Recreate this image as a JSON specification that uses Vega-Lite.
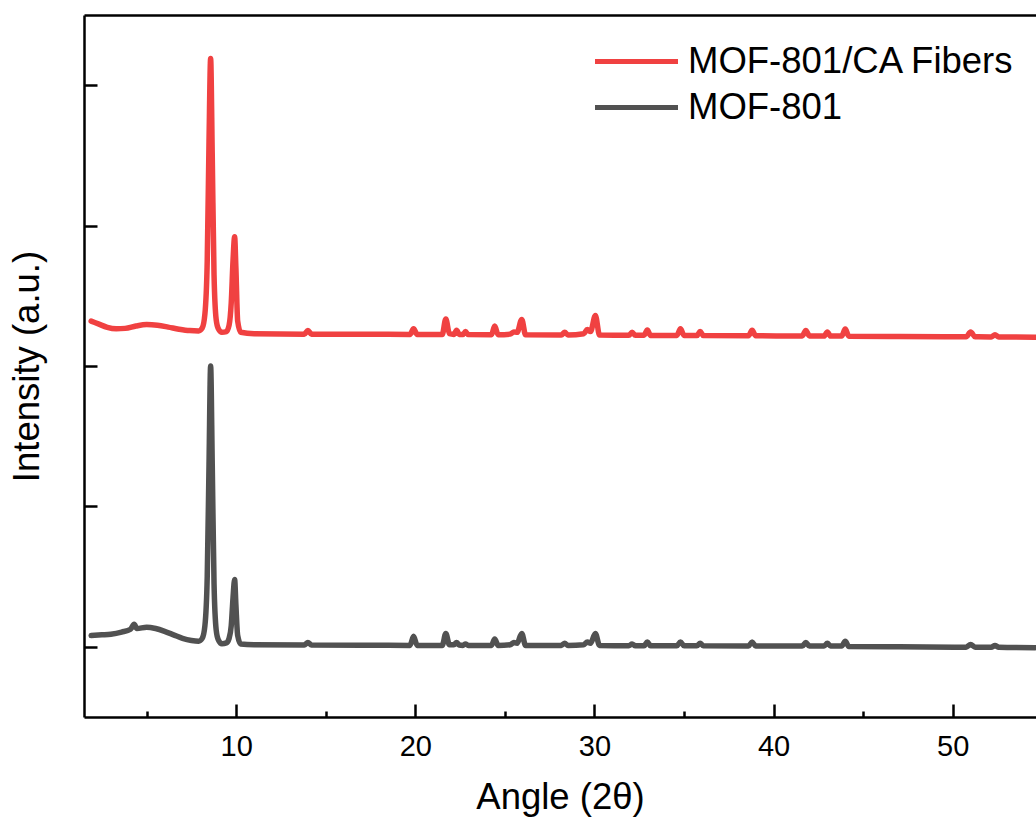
{
  "$schema": "https://vega.github.io/schema/vega-lite/v6.json",
  "width": 952,
  "height": 702,
  "autosize": {"type": "none"},
  "padding": {"left": 84, "top": 15, "right": 0, "bottom": 111},
  "background": "white",
  "config": {
    "view": {"stroke": null},
    "font": "Liberation Sans",
    "axis": {"grid": false, "domainColor": "black", "domainWidth": 2.5, "tickColor": "black", "tickWidth": 2.5, "labelColor": "black", "titleColor": "black", "labelFont": "Liberation Sans", "titleFont": "Liberation Sans", "titleFontWeight": "normal"}
  },
  "data": {"values": [
    {"sample": "MOF-801", "angle": 1.9, "intensity": 0.08},
    {"sample": "MOF-801", "angle": 2.5, "intensity": 0.085},
    {"sample": "MOF-801", "angle": 3.0, "intensity": 0.09},
    {"sample": "MOF-801", "angle": 3.6, "intensity": 0.105},
    {"sample": "MOF-801", "angle": 4.1, "intensity": 0.125},
    {"sample": "MOF-801", "angle": 4.3, "intensity": 0.16},
    {"sample": "MOF-801", "angle": 4.45, "intensity": 0.13},
    {"sample": "MOF-801", "angle": 5.0, "intensity": 0.14},
    {"sample": "MOF-801", "angle": 5.5, "intensity": 0.13},
    {"sample": "MOF-801", "angle": 6.0, "intensity": 0.11},
    {"sample": "MOF-801", "angle": 6.5, "intensity": 0.085},
    {"sample": "MOF-801", "angle": 7.0, "intensity": 0.06},
    {"sample": "MOF-801", "angle": 7.5, "intensity": 0.045},
    {"sample": "MOF-801", "angle": 7.9, "intensity": 0.04},
    {"sample": "MOF-801", "angle": 8.1, "intensity": 0.06},
    {"sample": "MOF-801", "angle": 8.25, "intensity": 0.15},
    {"sample": "MOF-801", "angle": 8.38, "intensity": 0.5},
    {"sample": "MOF-801", "angle": 8.48, "intensity": 1.3},
    {"sample": "MOF-801", "angle": 8.57, "intensity": 2.0},
    {"sample": "MOF-801", "angle": 8.66, "intensity": 1.3},
    {"sample": "MOF-801", "angle": 8.76, "intensity": 0.45},
    {"sample": "MOF-801", "angle": 8.88, "intensity": 0.12},
    {"sample": "MOF-801", "angle": 9.0, "intensity": 0.05},
    {"sample": "MOF-801", "angle": 9.2, "intensity": 0.022},
    {"sample": "MOF-801", "angle": 9.45, "intensity": 0.028},
    {"sample": "MOF-801", "angle": 9.6, "intensity": 0.06},
    {"sample": "MOF-801", "angle": 9.72, "intensity": 0.15},
    {"sample": "MOF-801", "angle": 9.82, "intensity": 0.35},
    {"sample": "MOF-801", "angle": 9.91, "intensity": 0.48},
    {"sample": "MOF-801", "angle": 9.98, "intensity": 0.3},
    {"sample": "MOF-801", "angle": 10.08, "intensity": 0.08},
    {"sample": "MOF-801", "angle": 10.25, "intensity": 0.02},
    {"sample": "MOF-801", "angle": 11, "intensity": 0.015},
    {"sample": "MOF-801", "angle": 13.8, "intensity": 0.013},
    {"sample": "MOF-801", "angle": 14.0, "intensity": 0.03},
    {"sample": "MOF-801", "angle": 14.2, "intensity": 0.013},
    {"sample": "MOF-801", "angle": 17, "intensity": 0.011},
    {"sample": "MOF-801", "angle": 19.7, "intensity": 0.01},
    {"sample": "MOF-801", "angle": 19.9, "intensity": 0.075},
    {"sample": "MOF-801", "angle": 20.1, "intensity": 0.01},
    {"sample": "MOF-801", "angle": 21.5, "intensity": 0.01},
    {"sample": "MOF-801", "angle": 21.7, "intensity": 0.095},
    {"sample": "MOF-801", "angle": 21.9, "intensity": 0.015},
    {"sample": "MOF-801", "angle": 22.15, "intensity": 0.015},
    {"sample": "MOF-801", "angle": 22.3, "intensity": 0.03},
    {"sample": "MOF-801", "angle": 22.45, "intensity": 0.013},
    {"sample": "MOF-801", "angle": 22.65, "intensity": 0.01},
    {"sample": "MOF-801", "angle": 22.8, "intensity": 0.02},
    {"sample": "MOF-801", "angle": 22.95, "intensity": 0.01},
    {"sample": "MOF-801", "angle": 24.25, "intensity": 0.01},
    {"sample": "MOF-801", "angle": 24.43, "intensity": 0.055},
    {"sample": "MOF-801", "angle": 24.62, "intensity": 0.01},
    {"sample": "MOF-801", "angle": 25.3, "intensity": 0.015},
    {"sample": "MOF-801", "angle": 25.5, "intensity": 0.03},
    {"sample": "MOF-801", "angle": 25.68, "intensity": 0.025},
    {"sample": "MOF-801", "angle": 25.94, "intensity": 0.095},
    {"sample": "MOF-801", "angle": 26.15, "intensity": 0.01},
    {"sample": "MOF-801", "angle": 28.15, "intensity": 0.01},
    {"sample": "MOF-801", "angle": 28.34, "intensity": 0.025},
    {"sample": "MOF-801", "angle": 28.52, "intensity": 0.01},
    {"sample": "MOF-801", "angle": 29.4, "intensity": 0.015},
    {"sample": "MOF-801", "angle": 29.6, "intensity": 0.035},
    {"sample": "MOF-801", "angle": 29.78, "intensity": 0.025},
    {"sample": "MOF-801", "angle": 30.05, "intensity": 0.095},
    {"sample": "MOF-801", "angle": 30.28, "intensity": 0.01},
    {"sample": "MOF-801", "angle": 31.92, "intensity": 0.008},
    {"sample": "MOF-801", "angle": 32.1, "intensity": 0.02},
    {"sample": "MOF-801", "angle": 32.28, "intensity": 0.007},
    {"sample": "MOF-801", "angle": 32.77, "intensity": 0.007},
    {"sample": "MOF-801", "angle": 32.95, "intensity": 0.035},
    {"sample": "MOF-801", "angle": 33.13, "intensity": 0.007},
    {"sample": "MOF-801", "angle": 34.6, "intensity": 0.007},
    {"sample": "MOF-801", "angle": 34.8, "intensity": 0.035},
    {"sample": "MOF-801", "angle": 35.0, "intensity": 0.007},
    {"sample": "MOF-801", "angle": 35.72, "intensity": 0.007},
    {"sample": "MOF-801", "angle": 35.9, "intensity": 0.025},
    {"sample": "MOF-801", "angle": 36.08, "intensity": 0.007},
    {"sample": "MOF-801", "angle": 38.6, "intensity": 0.005},
    {"sample": "MOF-801", "angle": 38.8, "intensity": 0.035},
    {"sample": "MOF-801", "angle": 39.0, "intensity": 0.005},
    {"sample": "MOF-801", "angle": 41.6, "intensity": 0.005},
    {"sample": "MOF-801", "angle": 41.8, "intensity": 0.03},
    {"sample": "MOF-801", "angle": 42.0, "intensity": 0.005},
    {"sample": "MOF-801", "angle": 42.82, "intensity": 0.005},
    {"sample": "MOF-801", "angle": 43.0, "intensity": 0.025},
    {"sample": "MOF-801", "angle": 43.18, "intensity": 0.005},
    {"sample": "MOF-801", "angle": 43.8, "intensity": 0.005},
    {"sample": "MOF-801", "angle": 44.0, "intensity": 0.04},
    {"sample": "MOF-801", "angle": 44.2, "intensity": 0.003},
    {"sample": "MOF-801", "angle": 47, "intensity": 0.0},
    {"sample": "MOF-801", "angle": 50.75, "intensity": -0.003},
    {"sample": "MOF-801", "angle": 51.0, "intensity": 0.017},
    {"sample": "MOF-801", "angle": 51.25, "intensity": -0.003},
    {"sample": "MOF-801", "angle": 52.15, "intensity": -0.003},
    {"sample": "MOF-801", "angle": 52.36, "intensity": 0.009},
    {"sample": "MOF-801", "angle": 52.57, "intensity": -0.003},
    {"sample": "MOF-801", "angle": 54.6, "intensity": -0.006},
    {"sample": "MOF-801/CA Fibers", "angle": 1.9, "intensity": 2.32},
    {"sample": "MOF-801/CA Fibers", "angle": 2.3, "intensity": 2.3},
    {"sample": "MOF-801/CA Fibers", "angle": 2.8, "intensity": 2.275},
    {"sample": "MOF-801/CA Fibers", "angle": 3.3, "intensity": 2.265},
    {"sample": "MOF-801/CA Fibers", "angle": 3.8, "intensity": 2.268},
    {"sample": "MOF-801/CA Fibers", "angle": 4.4, "intensity": 2.285},
    {"sample": "MOF-801/CA Fibers", "angle": 5.0, "intensity": 2.295},
    {"sample": "MOF-801/CA Fibers", "angle": 5.6, "intensity": 2.29},
    {"sample": "MOF-801/CA Fibers", "angle": 6.2, "intensity": 2.277},
    {"sample": "MOF-801/CA Fibers", "angle": 6.8, "intensity": 2.262},
    {"sample": "MOF-801/CA Fibers", "angle": 7.4, "intensity": 2.252},
    {"sample": "MOF-801/CA Fibers", "angle": 7.9, "intensity": 2.25},
    {"sample": "MOF-801/CA Fibers", "angle": 8.1, "intensity": 2.27},
    {"sample": "MOF-801/CA Fibers", "angle": 8.25, "intensity": 2.37},
    {"sample": "MOF-801/CA Fibers", "angle": 8.38, "intensity": 2.75},
    {"sample": "MOF-801/CA Fibers", "angle": 8.48, "intensity": 3.6},
    {"sample": "MOF-801/CA Fibers", "angle": 8.57, "intensity": 4.19},
    {"sample": "MOF-801/CA Fibers", "angle": 8.66, "intensity": 3.5},
    {"sample": "MOF-801/CA Fibers", "angle": 8.76, "intensity": 2.65},
    {"sample": "MOF-801/CA Fibers", "angle": 8.88, "intensity": 2.33},
    {"sample": "MOF-801/CA Fibers", "angle": 9.0, "intensity": 2.265},
    {"sample": "MOF-801/CA Fibers", "angle": 9.2, "intensity": 2.24},
    {"sample": "MOF-801/CA Fibers", "angle": 9.45, "intensity": 2.245},
    {"sample": "MOF-801/CA Fibers", "angle": 9.6, "intensity": 2.29},
    {"sample": "MOF-801/CA Fibers", "angle": 9.72, "intensity": 2.45},
    {"sample": "MOF-801/CA Fibers", "angle": 9.82, "intensity": 2.75},
    {"sample": "MOF-801/CA Fibers", "angle": 9.91, "intensity": 2.92},
    {"sample": "MOF-801/CA Fibers", "angle": 9.98, "intensity": 2.7},
    {"sample": "MOF-801/CA Fibers", "angle": 10.08, "intensity": 2.32},
    {"sample": "MOF-801/CA Fibers", "angle": 10.25, "intensity": 2.24},
    {"sample": "MOF-801/CA Fibers", "angle": 11, "intensity": 2.23},
    {"sample": "MOF-801/CA Fibers", "angle": 13.8, "intensity": 2.227},
    {"sample": "MOF-801/CA Fibers", "angle": 14.0, "intensity": 2.252},
    {"sample": "MOF-801/CA Fibers", "angle": 14.2, "intensity": 2.227},
    {"sample": "MOF-801/CA Fibers", "angle": 17, "intensity": 2.226},
    {"sample": "MOF-801/CA Fibers", "angle": 19.7, "intensity": 2.225},
    {"sample": "MOF-801/CA Fibers", "angle": 19.9, "intensity": 2.265},
    {"sample": "MOF-801/CA Fibers", "angle": 20.1, "intensity": 2.225},
    {"sample": "MOF-801/CA Fibers", "angle": 21.5, "intensity": 2.224},
    {"sample": "MOF-801/CA Fibers", "angle": 21.7, "intensity": 2.335},
    {"sample": "MOF-801/CA Fibers", "angle": 21.9, "intensity": 2.23},
    {"sample": "MOF-801/CA Fibers", "angle": 22.15, "intensity": 2.225},
    {"sample": "MOF-801/CA Fibers", "angle": 22.3, "intensity": 2.255},
    {"sample": "MOF-801/CA Fibers", "angle": 22.45, "intensity": 2.225},
    {"sample": "MOF-801/CA Fibers", "angle": 22.65, "intensity": 2.224},
    {"sample": "MOF-801/CA Fibers", "angle": 22.8, "intensity": 2.245},
    {"sample": "MOF-801/CA Fibers", "angle": 22.95, "intensity": 2.224},
    {"sample": "MOF-801/CA Fibers", "angle": 24.25, "intensity": 2.223},
    {"sample": "MOF-801/CA Fibers", "angle": 24.43, "intensity": 2.285},
    {"sample": "MOF-801/CA Fibers", "angle": 24.62, "intensity": 2.223},
    {"sample": "MOF-801/CA Fibers", "angle": 25.3, "intensity": 2.227},
    {"sample": "MOF-801/CA Fibers", "angle": 25.5, "intensity": 2.243},
    {"sample": "MOF-801/CA Fibers", "angle": 25.68, "intensity": 2.24},
    {"sample": "MOF-801/CA Fibers", "angle": 25.94, "intensity": 2.332},
    {"sample": "MOF-801/CA Fibers", "angle": 26.15, "intensity": 2.223},
    {"sample": "MOF-801/CA Fibers", "angle": 28.15, "intensity": 2.221},
    {"sample": "MOF-801/CA Fibers", "angle": 28.34, "intensity": 2.24},
    {"sample": "MOF-801/CA Fibers", "angle": 28.52, "intensity": 2.221},
    {"sample": "MOF-801/CA Fibers", "angle": 29.4, "intensity": 2.23},
    {"sample": "MOF-801/CA Fibers", "angle": 29.6, "intensity": 2.26},
    {"sample": "MOF-801/CA Fibers", "angle": 29.78, "intensity": 2.245},
    {"sample": "MOF-801/CA Fibers", "angle": 30.05, "intensity": 2.36},
    {"sample": "MOF-801/CA Fibers", "angle": 30.28, "intensity": 2.221},
    {"sample": "MOF-801/CA Fibers", "angle": 31.92, "intensity": 2.219},
    {"sample": "MOF-801/CA Fibers", "angle": 32.1, "intensity": 2.24},
    {"sample": "MOF-801/CA Fibers", "angle": 32.28, "intensity": 2.219},
    {"sample": "MOF-801/CA Fibers", "angle": 32.77, "intensity": 2.219},
    {"sample": "MOF-801/CA Fibers", "angle": 32.95, "intensity": 2.257},
    {"sample": "MOF-801/CA Fibers", "angle": 33.13, "intensity": 2.218},
    {"sample": "MOF-801/CA Fibers", "angle": 34.6, "intensity": 2.218},
    {"sample": "MOF-801/CA Fibers", "angle": 34.8, "intensity": 2.265},
    {"sample": "MOF-801/CA Fibers", "angle": 35.0, "intensity": 2.218},
    {"sample": "MOF-801/CA Fibers", "angle": 35.72, "intensity": 2.217},
    {"sample": "MOF-801/CA Fibers", "angle": 35.9, "intensity": 2.245},
    {"sample": "MOF-801/CA Fibers", "angle": 36.08, "intensity": 2.217},
    {"sample": "MOF-801/CA Fibers", "angle": 38.6, "intensity": 2.215},
    {"sample": "MOF-801/CA Fibers", "angle": 38.8, "intensity": 2.255},
    {"sample": "MOF-801/CA Fibers", "angle": 39.0, "intensity": 2.215},
    {"sample": "MOF-801/CA Fibers", "angle": 41.6, "intensity": 2.214},
    {"sample": "MOF-801/CA Fibers", "angle": 41.8, "intensity": 2.253},
    {"sample": "MOF-801/CA Fibers", "angle": 42.0, "intensity": 2.214},
    {"sample": "MOF-801/CA Fibers", "angle": 42.82, "intensity": 2.213},
    {"sample": "MOF-801/CA Fibers", "angle": 43.0, "intensity": 2.243},
    {"sample": "MOF-801/CA Fibers", "angle": 43.18, "intensity": 2.213},
    {"sample": "MOF-801/CA Fibers", "angle": 43.8, "intensity": 2.213},
    {"sample": "MOF-801/CA Fibers", "angle": 44.0, "intensity": 2.263},
    {"sample": "MOF-801/CA Fibers", "angle": 44.2, "intensity": 2.212},
    {"sample": "MOF-801/CA Fibers", "angle": 47, "intensity": 2.21},
    {"sample": "MOF-801/CA Fibers", "angle": 50.75, "intensity": 2.208},
    {"sample": "MOF-801/CA Fibers", "angle": 51.0, "intensity": 2.243},
    {"sample": "MOF-801/CA Fibers", "angle": 51.25, "intensity": 2.208},
    {"sample": "MOF-801/CA Fibers", "angle": 52.15, "intensity": 2.207},
    {"sample": "MOF-801/CA Fibers", "angle": 52.36, "intensity": 2.222},
    {"sample": "MOF-801/CA Fibers", "angle": 52.57, "intensity": 2.207},
    {"sample": "MOF-801/CA Fibers", "angle": 54.6, "intensity": 2.205}
  ]},
  "layer": [
    {
      "mark": {"type": "line", "strokeWidth": 5.5, "interpolate": "monotone", "strokeJoin": "round", "strokeCap": "round"},
      "encoding": {
        "x": {"field": "angle", "type": "quantitative",
          "scale": {"domain": [1.5, 54.65], "nice": false, "zero": false},
          "axis": {"orient": "bottom", "values": [5, 10, 15, 20, 25, 30, 35, 40, 45, 50],
            "labelExpr": "datum.value % 10 === 0 ? datum.label : ''",
            "tickSize": {"condition": {"test": "datum.value % 10 === 0", "value": -13}, "value": -6},
            "labelPadding": 28, "labelFontSize": 29, "labelFlush": false,
            "title": "Angle (2θ)", "titleFontSize": 36.5, "titleBaseline": "alphabetic", "titleY": 91}},
        "y": {"field": "intensity", "type": "quantitative",
          "scale": {"domain": [-0.5, 4.5], "nice": false, "zero": false},
          "axis": {"orient": "left", "values": [0, 1, 2, 3, 4], "labels": false, "tickSize": -13,
            "title": "Intensity (a.u.)", "titleFontSize": 36.5, "titleBaseline": "alphabetic", "titleX": -46}},
        "color": {"field": "sample", "type": "nominal",
          "scale": {"domain": ["MOF-801/CA Fibers", "MOF-801"], "range": ["#F04141", "#515151"]},
          "legend": {"title": null, "orient": "none", "legendX": 529, "legendY": 23, "padding": 0,
            "symbolType": "M-2,0H2", "symbolSize": 1722, "symbolStrokeWidth": 5, "symbolFillColor": "transparent",
            "labelFontSize": 36.5, "labelFont": "Liberation Sans", "labelColor": "black", "labelLimit": 0, "labelOffset": 28, "rowPadding": 4}}
      }
    },
    {
      "mark": {"type": "line", "strokeOpacity": 0, "interpolate": "monotone"},
      "encoding": {
        "x": {"field": "angle", "type": "quantitative",
          "axis": {"orient": "top", "ticks": false, "labels": false, "title": null}},
        "y": {"field": "intensity", "type": "quantitative"},
        "detail": {"field": "sample", "type": "nominal"}
      }
    }
  ],
  "resolve": {"axis": {"x": "independent"}}
}
